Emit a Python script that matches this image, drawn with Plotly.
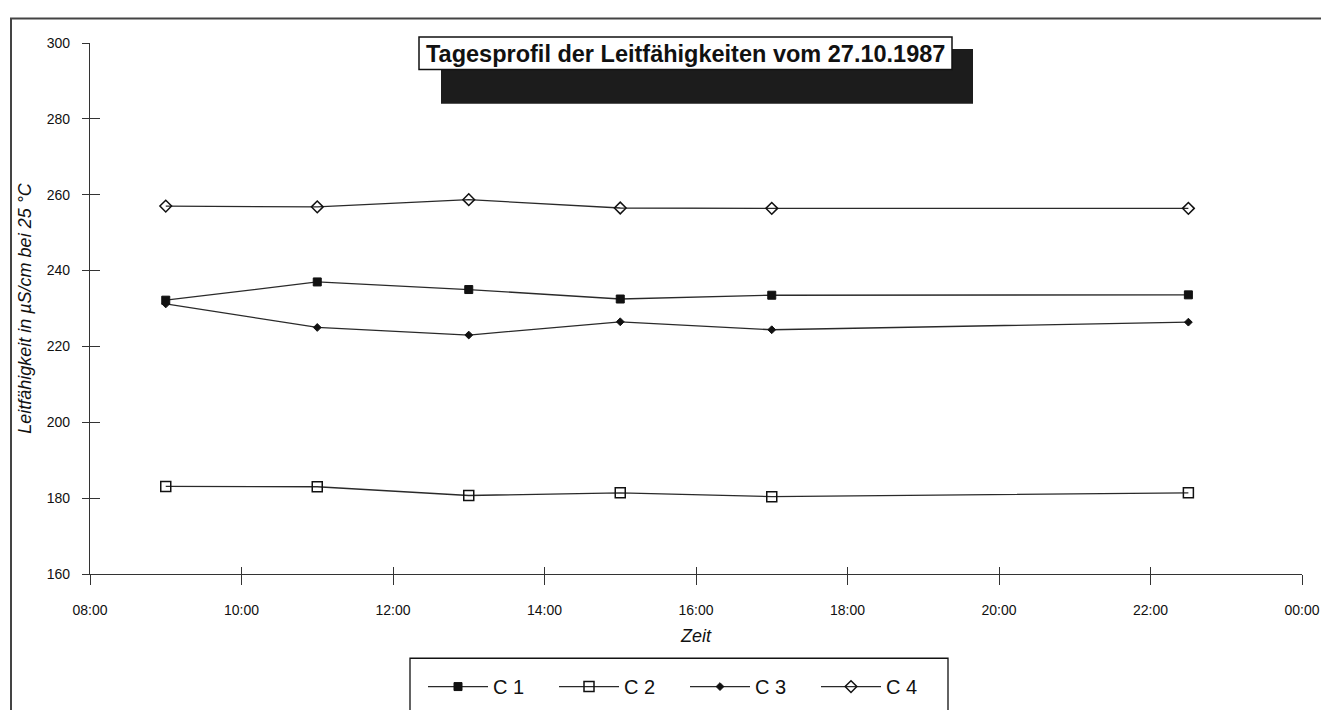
import plotly.graph_objects as go

# ---- data ----
times = ["1987-10-27 09:00", "1987-10-27 11:00", "1987-10-27 13:00",
         "1987-10-27 15:00", "1987-10-27 17:00", "1987-10-27 22:30"]
c1 = [232.2, 237.0, 235.0, 232.5, 233.5, 233.6]
c2 = [183.1, 183.0, 180.7, 181.4, 180.4, 181.4]
c3 = [231.2, 225.0, 223.0, 226.5, 224.4, 226.4]
c4 = [257.0, 256.8, 258.7, 256.5, 256.4, 256.4]
series_names = ["C 1", "C 2", "C 3", "C 4"]
y_ticks = [160, 180, 200, 220, 240, 260, 280, 300]
x_ticks = ["1987-10-27 08:00", "1987-10-27 10:00", "1987-10-27 12:00",
           "1987-10-27 14:00", "1987-10-27 16:00", "1987-10-27 18:00",
           "1987-10-27 20:00", "1987-10-27 22:00", "1987-10-28 00:00"]
x_tick_labels = ["08:00", "10:00", "12:00", "14:00", "16:00", "18:00",
                 "20:00", "22:00", "00:00"]
title_text = "Tagesprofil der Leitfähigkeiten vom 27.10.1987"
x_title = "Zeit"
y_title = "Leitfähigkeit in µS/cm bei 25 °C"

# ---- layout geometry (pixels) ----
W, H = 1329, 710
L, R, T, B = 82, 1294, 35, 577


def X(px):
    return (px - L) / (R - L)


def Y(py):
    return (B - py) / (B - T)


FONT = "Liberation Sans, Arial, Helvetica, sans-serif"
LINE = "#2a2a2a"

fig = go.Figure()
styles = [
    dict(symbol="square", size=8, color="#111", line=dict(color="#111", width=1)),
    dict(symbol="square-open", size=10, color="#111", line=dict(color="#111", width=1.5)),
    dict(symbol="diamond", size=6, color="#111", line=dict(color="#111", width=1)),
    dict(symbol="diamond-open", size=9, color="#111", line=dict(color="#111", width=1.5)),
]
for name, vals, st in zip(series_names, [c1, c2, c3, c4], styles):
    fig.add_trace(go.Scatter(
        x=times, y=vals, name=name, mode="lines+markers",
        line=dict(color=LINE, width=1.3),
        marker=dict(symbol=st["symbol"], size=st["size"], color=st["color"],
                    line=st["line"]),
    ))

# empty trace so the overlay axes (inner halves of the crossing ticks) are drawn
fig.add_trace(go.Scatter(x=[], y=[], xaxis="x2", yaxis="y2",
                         showlegend=False, hoverinfo="skip"))

xr = ["1987-10-27 08:00", "1987-10-28 00:00"]
yr = [160, 300]

fig.update_layout(
    width=W, height=H,
    margin=dict(l=L, r=W - R, t=T, b=H - B),
    paper_bgcolor="white", plot_bgcolor="white",
    font=dict(family=FONT, color="#111"),
    showlegend=True,
    legend=dict(orientation="h", x=X(415), y=Y(672), xanchor="left", yanchor="top",
                bgcolor="rgba(0,0,0,0)", borderwidth=0,
                font=dict(size=20, family=FONT, color="#111"),
                entrywidth=56, entrywidthmode="pixels", itemwidth=60),
    xaxis=dict(type="date", range=xr, tickvals=x_ticks, ticktext=x_tick_labels,
               showgrid=False, zeroline=False, showline=True, linecolor="#333",
               linewidth=1.3, ticks="outside", ticklen=10, tickwidth=1.3,
               tickcolor="#333", ticklabelstandoff=13,
               tickfont=dict(size=14, family=FONT, color="#111"),
               title=dict(text=x_title, standoff=12,
                          font=dict(size=18, family=FONT, style="italic", color="#111"))),
    yaxis=dict(range=yr, tickvals=y_ticks, showgrid=False, zeroline=False,
               showline=True, linecolor="#333", linewidth=1.3, ticks="outside",
               ticklen=7, tickwidth=1.3, tickcolor="#333", ticklabelstandoff=9,
               tickfont=dict(size=14, family=FONT, color="#111"),
               title=dict(text=y_title, standoff=10,
                          font=dict(size=18, family=FONT, style="italic", color="#111"))),
    xaxis2=dict(type="date", range=xr, tickvals=x_ticks, overlaying="x", anchor="y2",
                showticklabels=False, showgrid=False, zeroline=False, showline=False,
                ticks="inside", ticklen=7, tickwidth=1.3, tickcolor="#333"),
    yaxis2=dict(range=yr, tickvals=y_ticks, overlaying="y", anchor="x2",
                showticklabels=False, showgrid=False, zeroline=False, showline=False,
                ticks="inside", ticklen=10, tickwidth=1.3, tickcolor="#333"),
    shapes=[
        # outer frame
        dict(type="rect", xref="paper", yref="paper", x0=X(3), x1=X(1323),
             y0=Y(730), y1=Y(10), line=dict(color="#444", width=2),
             fillcolor="rgba(0,0,0,0)"),
        # title shadow
        dict(type="rect", xref="paper", yref="paper", x0=X(433), x1=X(965),
             y0=Y(97), y1=Y(41), line=dict(width=0), fillcolor="#1c1c1c"),
        # title box
        dict(type="rect", xref="paper", yref="paper", x0=X(411), x1=X(944),
             y0=Y(62), y1=Y(29), line=dict(color="#111", width=1.5),
             fillcolor="white"),
        # legend box
        dict(type="rect", xref="paper", yref="paper", x0=X(402), x1=X(940),
             y0=Y(730), y1=Y(663), line=dict(color="#111", width=1.3),
             fillcolor="rgba(0,0,0,0)"),
    ],
    annotations=[
        dict(text="<b>" + title_text + "</b>", xref="paper", yref="paper",
             x=X(677), y=Y(46), xanchor="center", yanchor="middle", showarrow=False,
             font=dict(size=23.5, family=FONT, color="#111")),
    ],
)

fig.write_html("out.html")
